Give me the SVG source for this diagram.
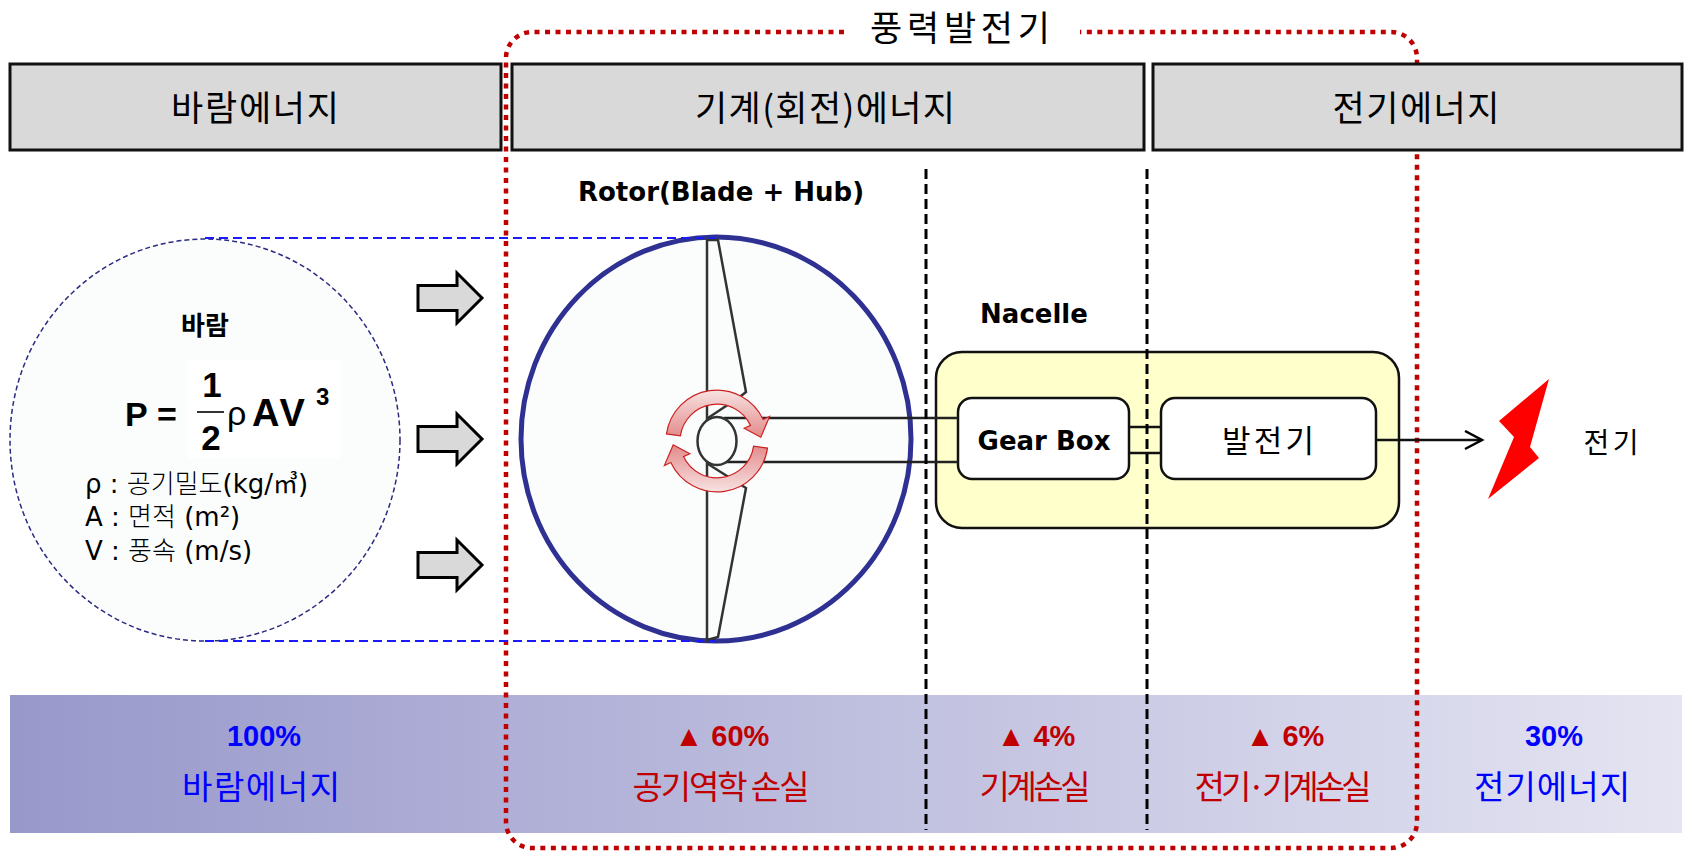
<svg xmlns="http://www.w3.org/2000/svg" width="1684" height="852" viewBox="0 0 1684 852">
  <style>
    .hdr { fill: #d9d9d9; stroke: #111; stroke-width: 3; }
    .hdrtxt { font-family: "Noto Sans CJK KR", sans-serif; font-size: 35px; fill: #000; text-anchor: middle; }
    .lbl { font-family: "DejaVu Sans", "Noto Sans CJK KR", sans-serif; font-weight: bold; font-size: 26px; fill: #000; text-anchor: middle; }
    .kr { font-family: "Noto Sans CJK KR", sans-serif; fill: #000; text-anchor: middle; }
    .leg { font-family: "DejaVu Sans", "Noto Sans CJK KR", sans-serif; font-size: 26px; fill: #000; }
    .legkr { font-family: "Noto Sans CJK KR", sans-serif; font-weight: 300; }
    .frm { font-family: "Liberation Sans", Arial, sans-serif; font-weight: bold; fill: #000; font-kerning: none; }
    .pct { font-family: "Liberation Sans", Arial, sans-serif; font-weight: bold; font-size: 29px; text-anchor: middle; }
    .bot { font-family: "Noto Sans CJK KR", sans-serif; font-size: 33px; text-anchor: middle; }
    .blue { fill: #0000ff; }
    .red { fill: #c00000; }
    .blockarrow { fill: #d9d9d9; stroke: #000; stroke-width: 3; stroke-linejoin: miter; }
    .box { fill: #fff; stroke: #111; stroke-width: 2.5; }
    .shaft { stroke: #222; stroke-width: 2.5; fill: none; }
    .bline { stroke: #111; stroke-width: 2.5; fill: none; }
    .sep { stroke: #000; stroke-width: 3; stroke-dasharray: 10 5; fill: none; }
    .sweep { stroke: #1a1aff; stroke-width: 2; stroke-dasharray: 9 5; fill: none; }
  </style>
  <defs>
    <linearGradient id="bandGrad" x1="0" y1="0" x2="1" y2="0">
      <stop offset="0" stop-color="#9898cb"/>
      <stop offset="1" stop-color="#e4e4f2"/>
    </linearGradient>
    <linearGradient id="spinGrad" x1="0" y1="0" x2="0" y2="1">
      <stop offset="0" stop-color="#f8e2e2"/>
      <stop offset="1" stop-color="#e38a8a"/>
    </linearGradient>
    <!-- curved rotation arrow around the hub centre (717,441) -->
    <path id="spin" d="M666.5,433.9 A51,51 0 0 1 763.2,419.5 L769.6,416.5 L760.8,437.2 L744.2,428.3 L750.5,425.4 A37,37 0 0 0 680.4,435.9 Z" fill="url(#spinGrad)" stroke="#cc2222" stroke-width="1.2"/>
    <path id="blockArrow" d="M0,-12.5 H39 V-25 L64,0 L39,25 V12.5 H0 Z" class="blockarrow"/>
    <marker id="openHead" markerUnits="userSpaceOnUse" markerWidth="24" markerHeight="24" refX="18" refY="10" orient="auto">
      <path d="M1,1 L18,10 L1,19" fill="none" stroke="#000" stroke-width="2.5"/>
    </marker>
  </defs>

  <rect width="1684" height="852" fill="#fff"/>

  <!-- efficiency band -->
  <g id="band">
    <rect x="10" y="695" width="1672" height="138" fill="url(#bandGrad)"/>
  </g>

  <!-- wind stream -->
  <g id="wind">
    <ellipse cx="205" cy="440" rx="195" ry="201" fill="#fbfdfd" stroke="#2b2b80" stroke-width="1.5" stroke-dasharray="5 3"/>
    <rect x="188" y="360" width="152" height="98" fill="#fff"/>
    <text class="kr" x="205" y="335" font-size="26" font-weight="bold">바람</text>
    <text class="frm" x="125" y="426" font-size="34">P =</text>
    <text class="frm" x="212" y="397" font-size="35" text-anchor="middle">1</text>
    <line x1="197" y1="412" x2="224" y2="412" stroke="#333" stroke-width="2"/>
    <text class="frm" x="211" y="450" font-size="35" text-anchor="middle">2</text>
    <text x="227" y="425" font-family="Liberation Sans, Arial, sans-serif" font-size="34" fill="#000">ρ</text>
    <text class="frm" x="252" y="426" font-size="38">AV</text>
    <text class="frm" x="316" y="405" font-size="24">3</text>
    <text class="leg" x="85" y="493">ρ : <tspan class="legkr">공기밀도</tspan>(kg/<tspan font-family="Noto Sans CJK KR, sans-serif" font-size="25">㎥</tspan>)</text>
    <text class="leg" x="85" y="526">A : <tspan class="legkr">면적</tspan> (m²)</text>
    <text class="leg" x="85" y="560">V : <tspan class="legkr">풍속</tspan> (m/s)</text>
  </g>

  <!-- wind arrows -->
  <g id="windArrows">
    <use href="#blockArrow" x="418" y="298"/>
    <use href="#blockArrow" x="418" y="439"/>
    <use href="#blockArrow" x="418" y="565"/>
  </g>

  <!-- wind turbine boundary -->
  <g id="turbineFrame">
    <path d="M844,32 H532 A26,26 0 0 0 506,58 V822 A26,26 0 0 0 532,848 H1391 A26,26 0 0 0 1417,822 V58 A26,26 0 0 0 1391,32 H1080" fill="none" stroke="#c00000" stroke-width="4.5" stroke-dasharray="5 5.5"/>
    <text class="kr" x="960" y="41" font-size="35" textLength="180" lengthAdjust="spacing">풍력발전기</text>
  </g>

  <!-- stage headers -->
  <g id="hdrWind">
    <rect class="hdr" x="10" y="64" width="491" height="86"/>
    <text class="hdrtxt" x="255" y="121" textLength="168" lengthAdjust="spacing">바람에너지</text>
  </g>
  <g id="hdrMech">
    <rect class="hdr" x="512" y="64" width="632" height="86"/>
    <text class="hdrtxt" x="825" y="121" textLength="260" lengthAdjust="spacing">기계(회전)에너지</text>
  </g>
  <g id="hdrElec">
    <rect class="hdr" x="1153" y="64" width="529" height="86"/>
    <text class="hdrtxt" x="1416" y="121" textLength="167" lengthAdjust="spacing">전기에너지</text>
  </g>

  <!-- rotor -->
  <g id="rotor">
    <text class="lbl" x="721" y="201" font-size="25.5">Rotor(Blade + Hub)</text>
    <ellipse cx="716" cy="439" rx="195" ry="202" fill="#fbfdfd" stroke="#2e3092" stroke-width="5"/>
    <line x1="707" y1="239" x2="707" y2="642" stroke="#333" stroke-width="2.5"/>
    <polyline points="707,240 718,240 746,392 741,396 708,418" fill="none" stroke="#333" stroke-width="2.5" stroke-linejoin="miter"/>
    <polyline points="708,464 746,488 718,637 707,640" fill="none" stroke="#333" stroke-width="2.5"/>
  </g>

  <!-- nacelle -->
  <g id="nacelle">
    <text class="lbl" x="1034" y="323">Nacelle</text>
    <rect x="936" y="352" width="463" height="176" rx="26" fill="#ffffcc" stroke="#111" stroke-width="2.5"/>
  </g>
  <g id="gearbox">
    <rect class="box" x="958" y="398" width="171" height="81" rx="14"/>
    <text class="lbl" x="1044" y="450">Gear Box</text>
  </g>
  <g id="generator">
    <rect class="box" x="1161" y="398" width="215" height="81" rx="14"/>
    <text class="kr" x="1268" y="452" font-size="31" textLength="92" lengthAdjust="spacing">발전기</text>
  </g>

  <!-- connectors -->
  <g id="connectors">
    <line class="sweep" x1="205" y1="238" x2="715" y2="238"/>
    <line class="sweep" x1="205" y1="641" x2="715" y2="641"/>
    <line class="shaft" x1="724" y1="418" x2="958" y2="418"/>
    <line class="shaft" x1="724" y1="462" x2="958" y2="462"/>
    <line class="bline" x1="1129" y1="427" x2="1161" y2="427"/>
    <line class="bline" x1="1129" y1="453" x2="1161" y2="453"/>
    <line class="bline" x1="1376" y1="440" x2="1482" y2="440" marker-end="url(#openHead)"/>
  </g>

  <!-- hub and rotation sign -->
  <g id="hub">
    <ellipse cx="717" cy="441" rx="19.5" ry="24" fill="#fbfdfd" stroke="#333" stroke-width="2.5"/>
    <use href="#spin"/>
    <use href="#spin" transform="rotate(180 717 441)"/>
  </g>

  <!-- electricity output -->
  <g id="electricity">
    <polygon points="1549,379 1499,421 1514,437 1488,499 1539,458 1530,447" fill="#ff0000"/>
    <text class="kr" x="1611" y="453" font-size="28" textLength="55" lengthAdjust="spacing">전기</text>
  </g>

  <!-- stage separators -->
  <g id="separators">
    <line class="sep" x1="926" y1="169" x2="926" y2="830"/>
    <line class="sep" x1="1147" y1="169" x2="1147" y2="830"/>
  </g>

  <!-- energy shares -->
  <g id="shares">
    <text class="pct blue" x="264" y="746">100%</text>
    <text class="bot blue" x="261" y="799" textLength="158" lengthAdjust="spacing">바람에너지</text>
    <text class="pct red" x="722" y="746">▲ 60%</text>
    <text class="bot red" x="721" y="799" textLength="177" lengthAdjust="spacing">공기역학 손실</text>
    <text class="pct red" x="1036" y="746">▲ 4%</text>
    <text class="bot red" x="1035" y="799" textLength="111" lengthAdjust="spacing">기계손실</text>
    <text class="pct red" x="1285" y="746">▲ 6%</text>
    <text class="bot red" x="1283" y="799" textLength="177" lengthAdjust="spacing">전기·기계손실</text>
    <text class="pct blue" x="1554" y="746">30%</text>
    <text class="bot blue" x="1552" y="799" textLength="156" lengthAdjust="spacing">전기에너지</text>
  </g>
</svg>
